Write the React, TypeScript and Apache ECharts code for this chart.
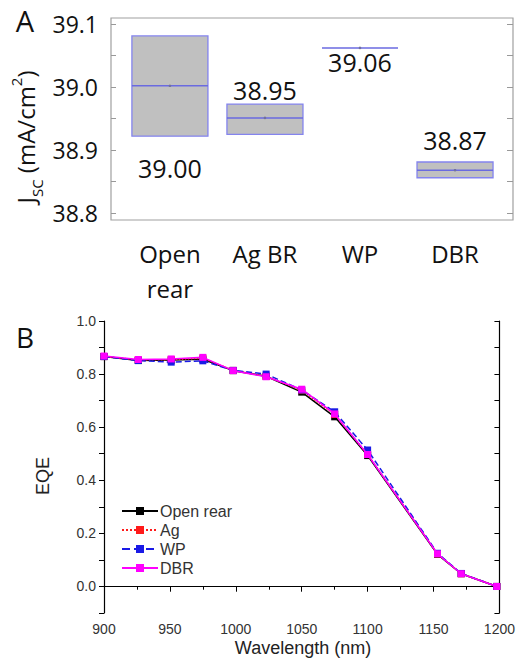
import React, { useEffect, useRef } from "react";
import * as echarts from "echarts";

// ---------- Panel A data ----------
const boxCategories = ["Open\nrear", "Ag BR", "WP", "DBR"];
const boxLow = [38.922, 38.925, 39.062, 38.856];
const boxMedian = [39.002, 38.951, 39.062, 38.868];
const boxHigh = [39.081, 38.973, 39.062, 38.881];
const jscTickLabels = [38.8, 38.9, 39.0, 39.1];
const jscTickValues = [38.8, 38.85, 38.9, 38.95, 39.0, 39.05, 39.1];

// ---------- Panel B data ----------
const wavelengths = [900, 926, 951, 975, 998, 1023, 1050, 1075, 1100, 1153, 1171, 1198];
const eqeOpenRear = [0.866, 0.851, 0.853, 0.856, 0.813, 0.792, 0.732, 0.639, 0.493, 0.121, 0.048, 0.0];
const eqeAg = [0.866, 0.854, 0.854, 0.860, 0.814, 0.792, 0.738, 0.648, 0.497, 0.123, 0.048, 0.0];
const eqeWP = [0.866, 0.851, 0.845, 0.850, 0.814, 0.800, 0.740, 0.658, 0.514, 0.125, 0.049, 0.0];
const eqeDBR = [0.868, 0.855, 0.857, 0.863, 0.813, 0.790, 0.743, 0.650, 0.497, 0.123, 0.048, 0.0];
const seriesNames = ["Open rear", "Ag", "WP", "DBR"];

// label placement style (px offsets from box edge)
const labelSide = ["below", "above", "below", "above"];
const labelOffset = [32, 14, 14, 22];

const fontA = "'Open Sans', 'Noto Sans', sans-serif";
const fontB = "'Liberation Sans', Arial, sans-serif";

export default function App() {
  const ref = useRef<HTMLDivElement>(null);

  useEffect(() => {
    if (!ref.current) return;
    const chart = echarts.init(ref.current, undefined, { renderer: "svg" });

    const boxData = boxCategories.map((_, i) => [i + 1, boxLow[i], boxMedian[i], boxHigh[i]]);

    const lineSeries = (name: string, vals: number[], color: string, type: string, z: number) => ({
      name,
      type: "line",
      xAxisIndex: 1,
      yAxisIndex: 2,
      data: wavelengths.map((w, i) => [w, vals[i]]),
      symbol: "rect",
      symbolSize: 7,
      itemStyle: { color },
      lineStyle: { color, width: 1.5, type },
      z,
    });

    const option: any = {
      animation: false,
      backgroundColor: "#fff",
      grid: [
        { left: 111, top: 18, width: 402, height: 202, show: true, borderColor: "#a0a0a0", borderWidth: 1.2, backgroundColor: "transparent" },
        { left: 104, top: 321, width: 398, height: 292, show: false },
      ],
      xAxis: [
        {
          gridIndex: 0,
          type: "value",
          min: 0.38,
          max: 4.61,
          axisLine: { show: false },
          axisTick: { show: false },
          splitLine: { show: false },
          axisLabel: {
            customValues: [1, 2, 3, 4],
            formatter: (v: number) => boxCategories[Math.round(v) - 1] ?? "",
            fontFamily: fontA,
            fontSize: 24,
            color: "#111",
            lineHeight: 35,
            margin: 16,
          },
        },
        {
          gridIndex: 1,
          type: "value",
          min: 900,
          max: 1200,
          interval: 50,
          axisLine: { show: true, lineStyle: { color: "#000", width: 1.2 } },
          axisTick: { show: true, length: 5, lineStyle: { color: "#000" } },
          minorTick: { show: true, splitNumber: 2, length: 3, lineStyle: { color: "#000" } },
          splitLine: { show: false },
          axisLabel: { fontFamily: fontB, fontSize: 14, color: "#333", margin: 9, formatter: (v: number) => String(v) },
        },
        {
          gridIndex: 1,
          type: "value",
          position: "top",
          min: 900,
          max: 1200,
          interval: 50,
          axisLine: { show: true, lineStyle: { color: "#000", width: 1.2 } },
          axisTick: { show: true, inside: true, length: 5, lineStyle: { color: "#000" } },
          minorTick: { show: true, splitNumber: 2, length: 3, lineStyle: { color: "#000" } },
          splitLine: { show: false },
          axisLabel: { show: false },
        },
      ],
      yAxis: [
        {
          gridIndex: 0,
          type: "value",
          min: 38.789,
          max: 39.1095,
          axisLine: { show: false },
          axisTick: { show: true, inside: true, length: 5, customValues: jscTickValues, lineStyle: { color: "#999" } },
          splitLine: { show: false },
          axisLabel: {
            customValues: jscTickLabels,
            formatter: (v: number) => v.toFixed(1),
            fontFamily: fontA,
            fontSize: 23,
            color: "#111",
            margin: 13,
          },
        },
        {
          gridIndex: 0,
          type: "value",
          position: "right",
          min: 38.789,
          max: 39.1095,
          axisLine: { show: false },
          axisTick: { show: true, inside: true, length: 6, customValues: jscTickValues, lineStyle: { color: "#999" } },
          splitLine: { show: false },
          axisLabel: { show: false },
        },
        {
          gridIndex: 1,
          type: "value",
          min: -0.1,
          max: 1.0,
          interval: 0.1,
          axisLine: { show: true, lineStyle: { color: "#000", width: 1.2 } },
          axisTick: { show: true, length: 5, lineStyle: { color: "#000" } },
          splitLine: { show: false },
          axisLabel: {
            fontFamily: fontB,
            fontSize: 14,
            color: "#333",
            margin: 8,
            formatter: (v: number) => {
              const k = Math.round(v * 10);
              return k >= 0 && k % 2 === 0 ? (k / 10).toFixed(1) : "";
            },
          },
        },
        {
          gridIndex: 1,
          type: "value",
          position: "right",
          min: -0.1,
          max: 1.0,
          interval: 0.1,
          axisLine: { show: true, lineStyle: { color: "#000", width: 1.2 } },
          axisTick: { show: true, inside: true, length: 5, lineStyle: { color: "#000" } },
          splitLine: { show: false },
          axisLabel: { show: false },
        },
      ],
      legend: {
        data: seriesNames,
        orient: "vertical",
        left: 116,
        top: 498,
        itemWidth: 36,
        itemHeight: 10,
        itemGap: 3,
        textStyle: { fontFamily: fontB, fontSize: 16, color: "#333", padding: [0, 0, 0, -3] },
      },
      series: [
        {
          type: "custom",
          xAxisIndex: 0,
          yAxisIndex: 0,
          data: boxData,
          renderItem: (params: any, api: any) => {
            const i = params.dataIndex;
            const x = api.value(0);
            const lo = api.value(1);
            const med = api.value(2);
            const hi = api.value(3);
            const hw = 0.4;
            const pTL = api.coord([x - hw, hi]);
            const pBR = api.coord([x + hw, lo]);
            const pM1 = api.coord([x - hw, med]);
            const pM2 = api.coord([x + hw, med]);
            const pC = api.coord([x, med]);
            const children: any[] = [];
            if (hi > lo) {
              children.push({
                type: "rect",
                shape: { x: pTL[0], y: pTL[1], width: pBR[0] - pTL[0], height: pBR[1] - pTL[1] },
                style: { fill: "#c0c0c0", stroke: "#8484ee", lineWidth: 1.3 },
              });
            }
            children.push({
              type: "line",
              shape: { x1: pM1[0], y1: pM1[1], x2: pM2[0], y2: pM2[1] },
              style: { stroke: "#6a6ae0", lineWidth: 1.5 },
            });
            children.push({
              type: "circle",
              shape: { cx: pC[0], cy: pC[1], r: 1.3 },
              style: { fill: "#7070a0" },
            });
            const below = labelSide[i] === "below";
            const ly = below ? pBR[1] + labelOffset[i] : pTL[1] - labelOffset[i];
            children.push({
              type: "text",
              x: pC[0],
              y: ly,
              style: {
                text: med.toFixed(2),
                fontFamily: fontA,
                fontSize: 25,
                fill: "#111",
                align: "center",
                verticalAlign: "middle",
              },
            });
            return { type: "group", children };
          },
          z: 3,
        },
        lineSeries("Open rear", eqeOpenRear, "#000000", "solid", 3),
        lineSeries("Ag", eqeAg, "#ff1a1a", "dotted", 4),
        lineSeries("WP", eqeWP, "#1a1ae6", "dashed", 5),
        lineSeries("DBR", eqeDBR, "#ff00ff", "solid", 6),
      ],
      graphic: [
        {
          type: "text",
          x: 25,
          y: 20,
          style: { text: "A", fontFamily: fontA, fontSize: 29, fill: "#111", align: "center", verticalAlign: "middle" },
        },
        {
          type: "text",
          x: 25,
          y: 337,
          style: { text: "B", fontFamily: fontA, fontSize: 28, fill: "#111", align: "center", verticalAlign: "middle" },
        },
        {
          type: "text",
          x: 25,
          y: 137,
          rotation: Math.PI / 2,
          style: {
            text: "{j|J}{sub|SC}{j| (mA/cm}{sup|2}{j|)}",
            align: "center",
            verticalAlign: "middle",
            fill: "#111",
            rich: {
              j: { fontFamily: fontA, fontSize: 24, fill: "#111", lineHeight: 30 },
              sub: { fontFamily: fontA, fontSize: 15, fill: "#111", verticalAlign: "bottom", lineHeight: 30, padding: [0, 0, -4, 0] },
              sup: { fontFamily: fontA, fontSize: 15, fill: "#111", verticalAlign: "top", lineHeight: 30, padding: [-2, 0, 0, 0] },
            },
          },
        },
        {
          type: "text",
          x: 43,
          y: 476,
          rotation: Math.PI / 2,
          style: { text: "EQE", fontFamily: fontB, fontSize: 18, fill: "#222", align: "center", verticalAlign: "middle" },
        },
        {
          type: "text",
          x: 303,
          y: 648,
          style: { text: "Wavelength (nm)", fontFamily: fontB, fontSize: 18, fill: "#222", align: "center", verticalAlign: "middle" },
        },
      ],
    };

    chart.setOption(option);
    return () => chart.dispose();
  }, []);

  return (
    <div
      ref={ref}
      style={{ position: "absolute", left: 0, top: 0, width: 518, height: 667, background: "#fff" }}
    />
  );
}
